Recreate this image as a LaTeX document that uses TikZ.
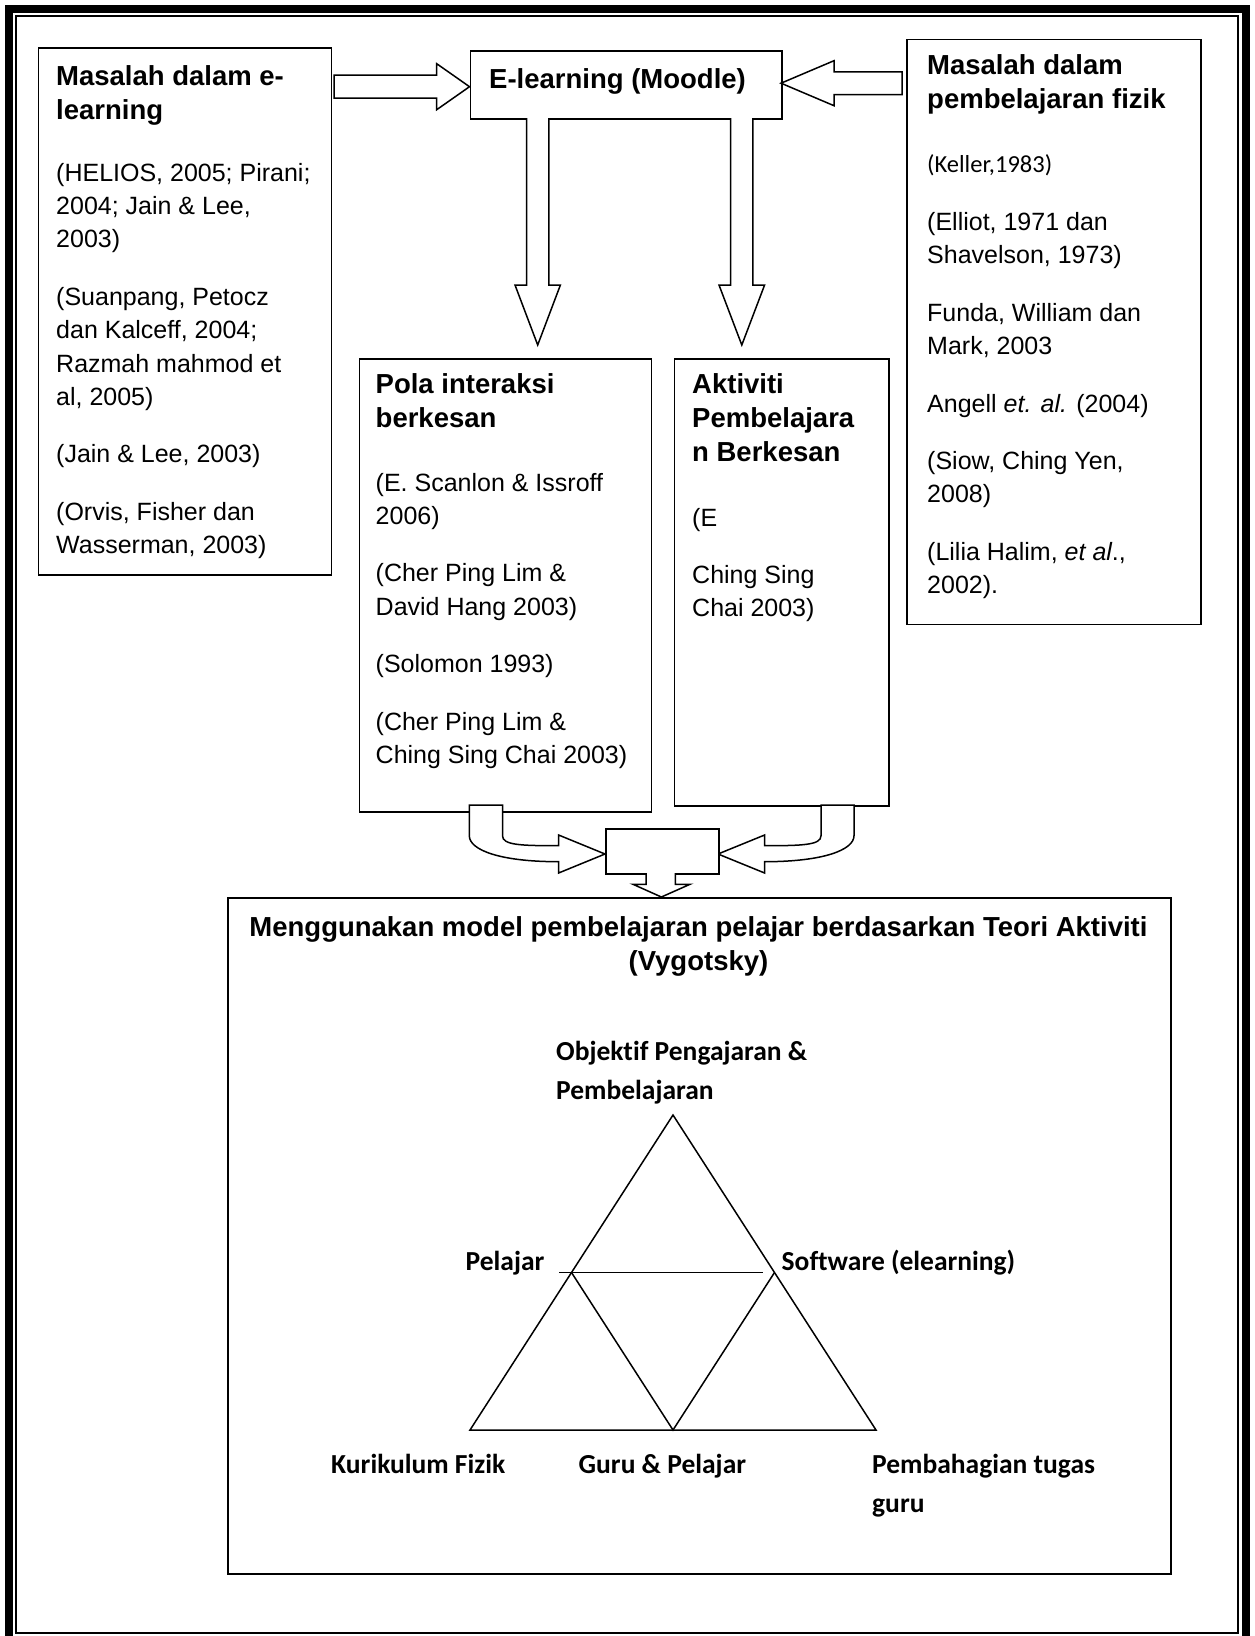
\documentclass[tikz,border=0pt]{standalone}
\usepackage{fontspec}
\setmainfont{Liberation Sans}
\newfontfamily\carl[Ligatures=NoCommon]{Carlito}
\newcommand\mylines[1]{\begin{tabular}[t]{@{}l@{}}#1\end{tabular}}
\newcommand\myclines[1]{\begin{tabular}[t]{@{}c@{}}#1\end{tabular}}
\begin{document}
\begin{tikzpicture}[x=1pt,y=-1pt,
  box/.style={draw,line width=1.7pt,fill=white,inner sep=0pt,anchor=north west},
  hd/.style={anchor=base west,inner sep=0pt,font=\bfseries\fontsize{27.5}{34.4}\selectfont},
  bd/.style={anchor=base west,inner sep=0pt,font=\fontsize{25}{33.4}\selectfont},
  lab/.style={anchor=base west,inner sep=0pt,font=\carl\bfseries\fontsize{27.5}{39}\selectfont},
  blk/.style={draw,line width=1.5pt,fill=white,line join=miter},
  tri/.style={line width=1.5pt}]
\useasboundingbox (0,0) rectangle (1255,1636);
\fill[white] (0,0) rectangle (1255,1636);
% page border
\draw[line width=8pt] (9,9) rectangle (1245.5,1660);
\draw[line width=2pt] (16,16) rectangle (1238,1633);

% boxes
\node[box,minimum width=293pt,minimum height=527pt] (A) at (37.5,47) {};
\node[box,minimum width=311.5pt,minimum height=68pt] (E) at (469.5,50) {};
\node[box,minimum width=294pt,minimum height=585pt] (R) at (906,38.6) {};
\node[box,minimum width=292pt,minimum height=453pt] (P) at (358.6,358) {};
\node[box,minimum width=214.5pt,minimum height=447pt] (K) at (673.5,358) {};
\node[box,minimum width=943pt,minimum height=676pt] (B) at (227.3,897) {};

% texts
\node[hd] (Ah) at (56,85.5) {\mylines{Masalah dalam e-\\learning}};
\node[bd] (At) at (56,181) {\mylines{(HELIOS, 2005; Pirani;\\2004; Jain \& Lee,\\2003)\\[24pt](Suanpang, Petocz\\dan Kalceff, 2004;\\Razmah mahmod et\\al, 2005)\\[24pt](Jain \& Lee, 2003)\\[24pt](Orvis, Fisher dan\\Wasserman, 2003)}};
\node[hd] (Et) at (489,88) {E-learning (Moodle)};
\node[hd] (Rh) at (927,74) {\mylines{Masalah dalam\\pembelajaran fizik}};
\node[anchor=base west,inner sep=0pt,font=\carl\fontsize{24.5}{30}\selectfont] (Rk) at (927,172) {(Keller,1983)};
\node[bd] (Rt) at (927,230.5) {\mylines{(Elliot, 1971 dan\\Shavelson, 1973)\\[24pt]Funda, William dan\\Mark, 2003\\[24pt]Angell \textit{et. al.} (2004)\\[24pt](Siow, Ching Yen,\\2008)\\[24pt](Lilia Halim, \textit{et al}.,\\2002).}};
\node[hd] (Ph) at (375.5,393) {\mylines{Pola interaksi\\berkesan}};
\node[bd] (Pt) at (375.5,491) {\mylines{(E. Scanlon \& Issroff\\2006)\\[24pt](Cher Ping Lim \&\\David Hang 2003)\\[24pt](Solomon 1993)\\[24pt](Cher Ping Lim \&\\Ching Sing Chai 2003)}};
\node[hd] (Kh) at (692,393) {\mylines{Aktiviti\\Pembelajara\\n Berkesan}};
\node[bd] (Kt) at (692,526) {\mylines{(E\\[24pt]Ching Sing\\Chai 2003)}};
\node[anchor=base,inner sep=0pt,font=\bfseries\fontsize{27.5}{34.4}\selectfont] (Bt) at (698.5,936) {\myclines{Menggunakan model pembelajaran pelajar berdasarkan Teori Aktiviti\\(Vygotsky)}};

% straight block arrows
\draw[blk] (334,75.2) -- (436.7,75.2) -- (436.7,63.7) -- (469.5,86.7) -- (436.7,109.7) -- (436.7,98.2) -- (334,98.2) -- cycle;
\draw[blk] (902,71.9) -- (834,71.9) -- (834,60.7) -- (781,83.2) -- (834,105.7) -- (834,94.5) -- (902,94.5) -- cycle;
\draw[blk] (526.6,118) -- (526.6,285) -- (515,285) -- (537.7,345) -- (560.4,285) -- (548.8,285) -- (548.8,118);
\draw[blk] (730.7,118) -- (730.7,285) -- (719,285) -- (741.8,345) -- (764.6,285) -- (752.9,285) -- (752.9,118);

% merge arrows
\draw[blk] (469.3,805) -- (502.5,805) -- (502.5,835.7) .. controls (502.5,845) and (520,845.7) .. (558.6,845.7) -- (558.6,835) -- (605,854) -- (558.6,873) -- (558.6,861.7) .. controls (500,861.7) and (469.3,850) .. (469.3,835.7) -- cycle;
\draw[blk] (854,805) -- (821,805) -- (821,835.7) .. controls (821,845) and (803,845.7) .. (764.6,845.7) -- (764.6,835) -- (718,854) -- (764.6,873) -- (764.6,861.7) .. controls (823,861.7) and (854,850) .. (854,835.7) -- cycle;
\node[box,minimum width=113pt,minimum height=45pt] (M) at (605,828) {};
\draw[blk] (646,873) -- (646,884.3) -- (633,884.3) -- (661.4,897) -- (690,884.3) -- (675.4,884.3) -- (675.4,873);

% triangle
\coordinate (apex) at (673,1115);
\coordinate (bl) at (470,1430);
\coordinate (br) at (876,1430);
\coordinate (bm) at (673,1430);
\coordinate (ml) at (571.5,1272.5);
\coordinate (mr) at (774.5,1272.5);
\coordinate (hl) at (559,1272.5);
\coordinate (hr) at (763,1272.5);
\draw[tri] (apex) -- (bl) -- (br) -- cycle;
\draw[tri] (ml) -- (bm) -- (mr);
\draw[tri] (hl) -- (hr);

% labels
\node[lab] (L1) at (556,1060) {\mylines{Objektif Pengajaran \&\\Pembelajaran}};
\node[lab] (L2) at (465.5,1270) {Pelajar};
\node[lab] (L3) at (781.5,1270) {Software (elearning)};
\node[lab] (L4) at (331,1473) {Kurikulum Fizik};
\node[lab] (L5) at (578.5,1473) {Guru \& Pelajar};
\node[lab] (L6) at (872,1473) {\mylines{Pembahagian tugas\\guru}};
\end{tikzpicture}
\end{document}
